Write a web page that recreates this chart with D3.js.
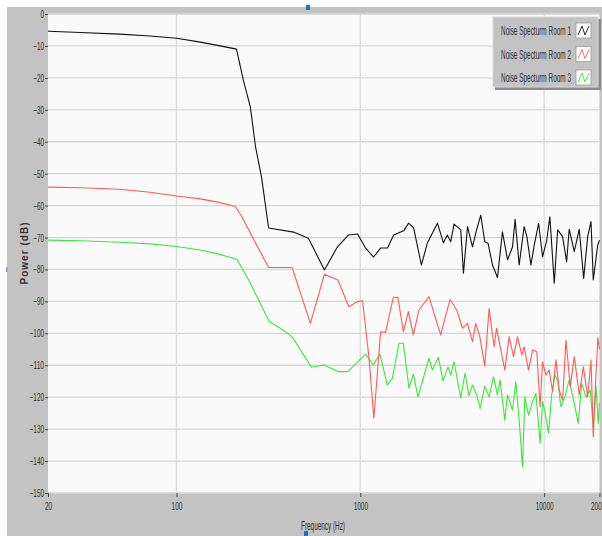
<!DOCTYPE html>
<html>
<head>
<meta charset="utf-8">
<script src="https://cdn.jsdelivr.net/npm/d3@7"></script>
<style>
  body { margin: 0; background: #fff; }
  svg { display: block; }
  .tick text { font-family: "Liberation Sans", Arial, sans-serif; font-size: 11px; fill: #2e2e2e; }
</style>
</head>
<body>
<div id="chart"></div>
<script>
// frequency (Hz) / power (dB)
let room1Freq = [20, 30, 49, 72, 100, 135, 170, 212, 231, 252, 269, 290, 317, 433, 522, 638, 751, 863, 966, 1068, 1180, 1289, 1406, 1517, 1721, 1832, 1950, 2148, 2316, 2626, 2830, 2976, 3103, 3235, 3518, 3639, 3828, 4074, 4299, 4519, 4753, 4955, 5236, 5572, 5931, 6324, 6730, 6950, 7310, 7780, 8054, 8470, 8830, 9330, 9800, 10300, 10740, 11350, 11840, 12600, 13250, 13680, 14580, 15520, 16400, 17250, 17980, 18500, 19550, 20000];
let room1Db = [-5.4, -5.8, -6.3, -6.9, -7.6, -8.8, -9.9, -11, -20.7, -29, -41.5, -51, -67, -68.3, -70.2, -80.2, -72.9, -69.2, -68.9, -73.3, -76.1, -73.3, -73.3, -69.2, -67.9, -65.5, -67, -78.6, -71.7, -65.5, -71.6, -69.2, -71.3, -65.8, -67.6, -81.2, -66.6, -72.9, -67.4, -63, -71.3, -71.8, -78.6, -82.5, -68.2, -77, -72.9, -64.3, -78.6, -66.6, -69.7, -78.6, -72.4, -65.6, -76, -71.3, -63.5, -84.3, -67.6, -69.7, -77.6, -67.4, -74.4, -67.4, -82.8, -69.7, -65, -83.3, -72.4, -70.8];

let room2Freq = [20, 30, 49, 72, 100, 135, 170, 209, 227, 258, 317, 426, 535, 638, 755, 866, 962, 1028, 1113, 1185, 1289, 1372, 1512, 1601, 1714, 1824, 1943, 2084, 2363, 2735, 3076, 3346, 3594, 3828, 4074, 4246, 4467, 4753, 5018, 5342, 5506, 5810, 6109, 6449, 6816, 7161, 7563, 7780, 8222, 8650, 9120, 9506, 9795, 10220, 10650, 11120, 11590, 12080, 12600, 13140, 13870, 14580, 15520, 16330, 17250, 17980, 18500, 19140, 19600, 20000];
let room2Db = [-54.2, -54.4, -54.9, -55.8, -57, -57.9, -59, -60.3, -63.5, -69.7, -79.4, -79.4, -96.9, -81.5, -83.3, -91.7, -90.1, -89.8, -107.3, -126.6, -99.5, -99.7, -88.7, -88.7, -99.5, -93.2, -100.5, -92.7, -88.5, -100.5, -89.4, -92.7, -98.4, -96.9, -102.6, -96.9, -101.1, -110.2, -92.2, -104.2, -98.4, -105.2, -111.5, -101.1, -107.3, -101.1, -106.8, -104.2, -111.5, -105.2, -105.8, -123, -108.9, -113.1, -111.5, -118.3, -108.4, -117.8, -120.9, -102.1, -116.7, -107.3, -119.3, -110.5, -119.9, -108.4, -132.4, -113.1, -101.3, -105];

let room3Freq = [20, 30, 49, 72, 100, 135, 170, 213, 247, 320, 376, 426, 542, 632, 764, 855, 1068, 1176, 1278, 1402, 1493, 1622, 1714, 1839, 1943, 2058, 2363, 2466, 2659, 2816, 3000, 3103, 3235, 3518, 3713, 3904, 4074, 4299, 4482, 4753, 5018, 5302, 5572, 5760, 6109, 6320, 6730, 7015, 7310, 7628, 7850, 8222, 8650, 9016, 9506, 9795, 10090, 10570, 10980, 11440, 11840, 12330, 12970, 13680, 14580, 15330, 16000, 16890, 17820, 18500, 19140, 19700, 20000];
let room3Db = [-70.8, -71, -71.5, -72, -72.8, -73.9, -75.2, -76.8, -83.3, -96.4, -98.8, -101.1, -110.6, -109.9, -112, -112, -106.5, -109.9, -106.5, -116.2, -114.1, -103.1, -103.1, -117.2, -112.8, -119.9, -107.8, -111.5, -107.5, -114.8, -110.5, -113.1, -108.9, -120.2, -112.5, -119.6, -116.2, -119.3, -123.5, -116.5, -119.9, -113.6, -119.3, -114.6, -127.2, -119.3, -124, -115.2, -127.2, -141.8, -119.9, -125.6, -121.4, -118.8, -134.5, -121.4, -124.5, -131.3, -119.3, -113.1, -114.6, -123, -119.9, -114.6, -121.9, -128.2, -115.7, -119.9, -117.8, -129.3, -116.7, -128.2, -121.9];

let seriesNames = ["Noise Specturm Room 1", "Noise Specturm Room 2", "Noise Specturm Room 3"];
let seriesColors = ["#111111", "#ff5a5a", "#3ae83a"];
let xTicks = [20, 100, 1000, 10000, 20000];
let yTicks = [0, -10, -20, -30, -40, -50, -60, -70, -80, -90, -100, -110, -120, -130, -140, -150];

let totalW = 602, totalH = 536;
let margin = {top: 14, right: 2.5, bottom: 43, left: 48};
let width = totalW - margin.left - margin.right;
let height = totalH - margin.top - margin.bottom;

// the screenshot font is very condensed, squeeze text to it
function squeeze(sel, perChar) {
    sel.each(function() {
        let t = d3.select(this);
        t.attr("textLength", t.text().length * perChar).attr("lengthAdjust", "spacingAndGlyphs");
    });
}

let svg = d3.select("#chart").append("svg")
    .attr("width", totalW)
    .attr("height", totalH);

// gray panel behind everything
svg.append("rect")
    .attr("x", 7).attr("y", 7)
    .attr("width", totalW - 7).attr("height", totalH - 7)
    .attr("fill", "#c3c3c3");

let g = svg.append("g")
    .attr("transform", `translate(${margin.left}, ${margin.top})`);

let x = d3.scaleLog().domain([20, 20000]).range([0, width]);
let y = d3.scaleLinear().domain([-150, 0]).range([height, 0]);

g.append("rect")
    .attr("width", width).attr("height", height)
    .attr("fill", "#fafafa");

// grid
g.selectAll(".hgrid")
    .data(yTicks)
    .enter().append("line")
    .attr("x1", 0).attr("x2", width)
    .attr("y1", d => y(d)).attr("y2", d => y(d))
    .attr("stroke", "#d6d6d6").attr("stroke-width", 1.3);

g.selectAll(".vgrid")
    .data([100, 1000, 10000])
    .enter().append("line")
    .attr("y1", 0).attr("y2", height)
    .attr("x1", d => x(d)).attr("x2", d => x(d))
    .attr("stroke", "#dcdcdc").attr("stroke-width", 1.3);

// axes
let yAxis = g.append("g")
    .call(d3.axisLeft(y).tickValues(yTicks).tickSize(3).tickPadding(1).tickFormat(d3.format("d")));
let xAxis = g.append("g")
    .attr("transform", `translate(0, ${height})`)
    .call(d3.axisBottom(x).tickValues(xTicks).tickSize(4).tickPadding(5).tickFormat(d3.format("d")));
[yAxis, xAxis].forEach(a => {
    a.select(".domain").remove();
    a.selectAll(".tick line").attr("stroke", "#444");
    squeeze(a.selectAll(".tick text"), 3.6);
});

// curves
let line = d3.line()
    .x(d => x(d[0]))
    .y(d => y(d[1]));

let series = [
    d3.zip(room1Freq, room1Db),
    d3.zip(room2Freq, room2Db),
    d3.zip(room3Freq, room3Db)
];

let plot = g.append("g");
// draw green first so black stays on top
[2, 1, 0].forEach(i => {
    plot.append("path")
        .datum(series[i])
        .attr("fill", "none")
        .attr("stroke", seriesColors[i])
        .attr("stroke-width", 1.1)
        .attr("stroke-linejoin", "round")
        .attr("d", line);
});

// axis titles
svg.append("text")
    .attr("transform", `translate(28, ${margin.top + height / 2}) rotate(-90)`)
    .attr("text-anchor", "middle")
    .attr("textLength", 62)
    .attr("lengthAdjust", "spacing")
    .style("font-family", "'Liberation Sans', Arial, sans-serif")
    .style("font-size", "10px")
    .style("font-weight", "bold")
    .style("fill", "#3a3030")
    .text("Power (dB)");

svg.append("text")
    .attr("x", 301).attr("y", 530)
    .attr("textLength", 44)
    .attr("lengthAdjust", "spacingAndGlyphs")
    .style("font-family", "'Liberation Sans', Arial, sans-serif")
    .style("font-size", "12px")
    .style("fill", "#2e2e2e")
    .text("Frequency (Hz)");

// legend
let legend = svg.append("g").attr("transform", "translate(493, 17)");
legend.append("rect")
    .attr("x", 2).attr("y", 2).attr("width", 106).attr("height", 71)
    .attr("fill", "#8a8a8a");
legend.append("rect")
    .attr("width", 105).attr("height", 70)
    .attr("fill", "#c3c3c3").attr("stroke", "#d8d8d8").attr("stroke-width", 1);

let items = legend.selectAll(".item")
    .data(seriesNames)
    .enter().append("g")
    .attr("transform", (d, i) => `translate(0, ${6 + i * 23.5})`);

items.append("text")
    .attr("x", 8).attr("y", 12)
    .attr("textLength", 70)
    .attr("lengthAdjust", "spacingAndGlyphs")
    .style("font-family", "'Liberation Sans', Arial, sans-serif")
    .style("font-size", "12px")
    .style("fill", "#2e2e2e")
    .text(d => d);

items.append("rect")
    .attr("x", 83).attr("y", 0).attr("width", 15).attr("height", 15)
    .attr("fill", "#fff").attr("stroke", "#999").attr("stroke-width", 0.8);

items.append("path")
    .attr("d", "M85,12 L89,3 L92,12 L96,3")
    .attr("fill", "none")
    .attr("stroke", (d, i) => seriesColors[i])
    .attr("stroke-width", 0.9);

// little selection handles of the screenshot
svg.append("rect").attr("x", 306).attr("y", 5).attr("width", 4).attr("height", 5).attr("fill", "#1a6fd8");
svg.append("rect").attr("x", 6).attr("y", 267).attr("width", 2).attr("height", 5).attr("fill", "#7fb0e8");
svg.append("rect").attr("x", 304).attr("y", 531).attr("width", 4).attr("height", 5).attr("fill", "#1a6fd8");
</script>
</body>
</html>
